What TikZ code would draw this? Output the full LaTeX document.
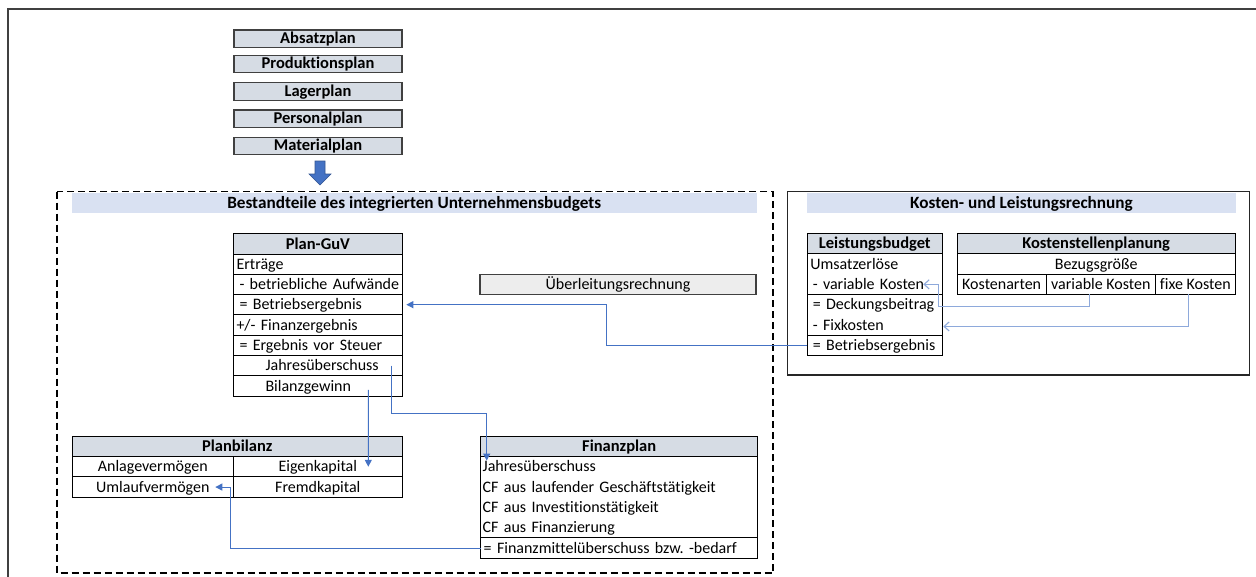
\documentclass[tikz,border=0pt]{standalone}
\usepackage{fontspec}
\setmainfont{Carlito}[Ligatures={NoCommon}]
\usetikzlibrary{arrows.meta}
\definecolor{hdr}{HTML}{D6DCE4}
\definecolor{ttl}{HTML}{D9E1F2}
\definecolor{ueb}{HTML}{EDEDED}
\definecolor{arrblue}{HTML}{4472C4}
\definecolor{lblue}{HTML}{8EA9DB}
\definecolor{framegray}{HTML}{404040}
\newcommand{\fsz}{\fontsize{16}{18}\selectfont\frenchspacing}
\newcommand{\fszb}{\fontsize{16.5}{18}\selectfont\bfseries}
\newcommand{\fszt}{\fontsize{17.2}{19}\selectfont\bfseries}
\begin{document}
\begin{tikzpicture}[x=1pt,y=-1pt,
  every node/.style={font=\fsz, outer sep=0pt, text height=13.2pt, text depth=2.8pt},
  planbox/.style={draw=framegray, line width=1.3pt, fill=hdr, anchor=north west, inner sep=0pt,
    minimum width=168pt, minimum height=17.5pt, font=\fszb, text height=12.6pt, text depth=3.4pt},
  titlebar/.style={fill=ttl, anchor=north west, inner sep=0pt, minimum height=20.3pt,
    minimum width=#1, font=\fszt},
  head/.style={draw=black, line width=1pt, fill=hdr, anchor=north west, inner sep=0pt,
    minimum height=20.6pt, minimum width=#1, font=\fszb},
  cellC/.style={draw=black, line width=1pt, anchor=north west, inner sep=0pt,
    minimum height=20.3pt, minimum width=#1},
  cellL/.style={draw=black, line width=1pt, anchor=north west, inner xsep=3pt, inner ysep=0pt,
    minimum height=20.3pt, text width=#1, align=left},
  rowL/.style={cellL=#1, draw=none},
  tbl/.style={draw=black, line width=1pt},
  arr/.style={draw=arrblue, line width=1.1pt, -{Triangle[length=7pt,width=7pt]}},
  larr/.style={draw=lblue, line width=1.1pt, -{Straight Barb[length=5pt,width=9pt]}},
]
\useasboundingbox (0,0) rectangle (1256,576);
\fill[white] (0,0) rectangle (1256,576);

% outer frame
\draw[framegray, line width=2pt] (8.3,585) -- (8.3,9.3) -- (1265,9.3);

% planning stack
\node[planbox] (p1) at (234,30) {Absatzplan};
\node[planbox] (p2) at (234,55.3) {Produktionsplan};
\node[planbox] (p3) at (234,82.8) {Lagerplan};
\node[planbox] (p4) at (234,110) {Personalplan};
\node[planbox] (p5) at (234,137.3) {Materialplan};

% block arrow
\filldraw[fill=arrblue, draw=arrblue!75!black, line width=0.6pt]
  (315,161) -- (325,161) -- (325,174) -- (331,174) -- (320,185) -- (309,174) -- (315,174) -- cycle;

% dashed frame
\draw[line width=1.8pt, dash pattern=on 7pt off 4pt] (57,191.5) rectangle (773,573);
\node[titlebar=684.5pt] (t1) at (72,193) {Bestandteile des integrierten Unternehmensbudgets};

% Kosten frame
\draw[black!85, line width=1.3pt] (787.5,191.5) rectangle (1249.5,375);
\node[titlebar=429pt] (t2) at (807,193) {Kosten- und Leistungsrechnung};

% Ueberleitungsrechnung
\node[draw=framegray, line width=1.2pt, fill=ueb, anchor=north west, inner sep=0pt,
  minimum width=276pt, minimum height=20pt] (ue) at (480,274.3) {Überleitungsrechnung};

% Plan-GuV
\node[head=168.8pt] (gvh) at (233.5,233.5) {Plan-GuV};
\node[cellL=162.8pt] (gv1) at (233.5,254) {Erträge};
\node[cellL=162.8pt] (gv2) at (233.5,274.3) {\hspace*{3pt}\mbox{- betriebliche Aufwände}};
\node[cellL=162.8pt] (gv3) at (233.5,294.5) {\hspace*{3pt}= Betriebsergebnis};
\node[cellL=162.8pt] (gv4) at (233.5,314.8) {+/- Finanzergebnis};
\node[cellL=162.8pt] (gv5) at (233.5,335.1) {\hspace*{3pt}= Ergebnis vor Steuer};
\node[cellL=162.8pt] (gv6) at (233.5,355.4) {\hspace*{29pt}Jahresüberschuss};
\node[cellL=162.8pt] (gv7) at (233.5,375.7) {\hspace*{29pt}Bilanzgewinn};

% Planbilanz
\node[head=330pt] (pbh) at (72.3,436) {Planbilanz};
\node[cellC=161pt] (pbav) at (72.3,456.6) {Anlagevermögen};
\node[cellC=169pt] (pbek) at (233.3,456.6) {Eigenkapital};
\node[cellC=161pt] (pbuv) at (72.3,476.9) {Umlaufvermögen};
\node[cellC=169pt] (pbfk) at (233.3,476.9) {Fremdkapital};

% Finanzplan
\node[head=277pt] (fph) at (480.7,436) {Finanzplan};
\node[rowL=273pt, inner xsep=2pt] (fp1) at (480.7,456.6) {Jahresüberschuss};
\node[rowL=273pt, inner xsep=2pt] (fp2) at (480.7,476.9) {CF aus laufender Geschäftstätigkeit};
\node[rowL=273pt, inner xsep=2pt] (fp3) at (480.7,497.2) {CF aus Investitionstätigkeit};
\node[rowL=273pt, inner xsep=2pt] (fp4) at (480.7,517.5) {CF aus Finanzierung};
\draw[tbl] (fp1.north west) rectangle (fp4.south east);
\node[cellL=271pt, inner xsep=3pt, minimum height=20.6pt] (fp5) at (480.7,537.8) {\mbox{= Finanzmittelüberschuss bzw. -bedarf}};

% Leistungsbudget
\node[head=135pt] (lbh) at (807.3,233.3) {Leistungsbudget};
\node[rowL=129pt] (lb1) at (807.3,253.9) {Umsatzerlöse};
\node[rowL=129pt] (lb2) at (807.3,274.2) {\hspace*{2.5pt}- variable Kosten};
\draw[tbl] (lb1.north west) rectangle (lb2.south east);
\node[rowL=129pt] (lb3) at (807.3,294.5) {\hspace*{2.5pt}\mbox{= Deckungsbeitrag}};
\node[rowL=129pt] (lb4) at (807.3,314.8) {\hspace*{2.5pt}- Fixkosten};
\draw[tbl] (lb3.north west) rectangle (lb4.south east);
\node[cellL=129pt] (lb5) at (807.3,335.1) {\hspace*{2.5pt}\mbox{= Betriebsergebnis}};

% Kostenstellenplanung
\node[head=277.7pt] (ksh) at (957.3,233.3) {Kostenstellenplanung};
\node[cellC=277.7pt] (ksb) at (957.3,253.9) {Bezugsgröße};
\node[cellC=88.7pt, minimum height=20pt] (ksa) at (957.3,274.4) {Kostenarten};
\node[cellC=109.7pt, minimum height=20pt] (ksv) at (1046,274.4) {variable Kosten};
\node[cellC=79.3pt, minimum height=20pt] (ksf) at (1155.7,274.4) {fixe Kosten};

% connectors
\draw[arr] (lb5.west) -- ++(-201,0) |- ([xshift=4pt]gv3.east);
\draw[arr] ([xshift=-10.5pt]gv6.east) -- ++(0,48) -| ([xshift=6pt,yshift=-4pt]fp1.north west);
\draw[arr] ([xshift=-34pt,yshift=-4pt]gv7.east) -- ([xshift=-34pt]pbek.east);
\draw[arr] (fp5.west) -| ([xshift=-3pt]pbuv.east) -- ([xshift=-18pt]pbuv.east);
\draw[larr] ([xshift=-11.5pt]ksv.south) |- ([xshift=-4pt,yshift=-22pt]lb2.east)
  -- ([xshift=-4pt]lb2.east) -- ([xshift=-19pt]lb2.east);
\draw[larr] ([xshift=-7pt]ksf.south) |- ([xshift=1pt,yshift=-1.5pt]lb4.east);
\end{tikzpicture}
\end{document}
